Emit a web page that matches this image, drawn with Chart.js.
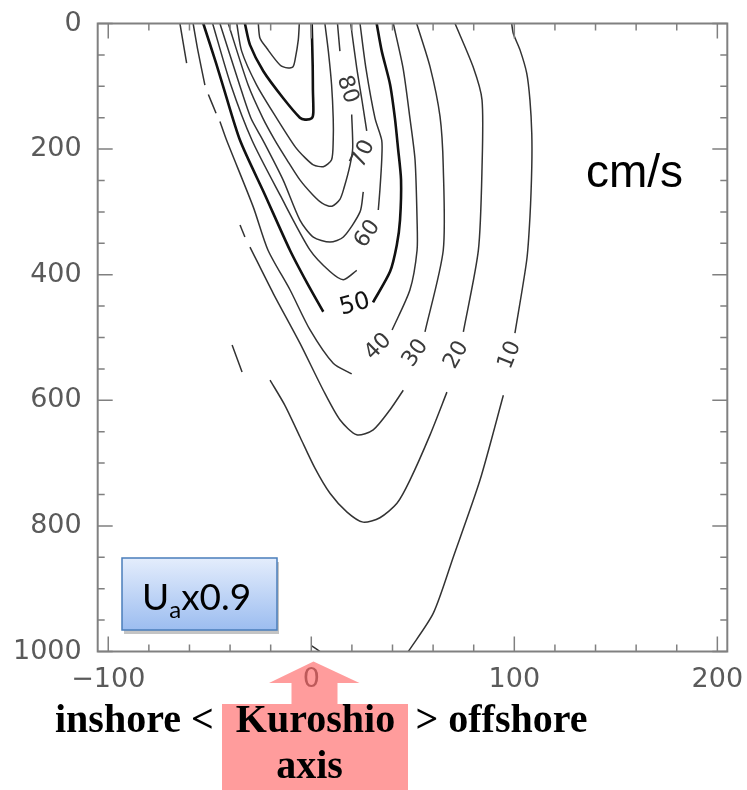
<!DOCTYPE html>
<html>
<head>
<meta charset="utf-8">
<script src="https://cdn.jsdelivr.net/npm/chart.js@4.4.1/dist/chart.umd.min.js"></script>
<style>
  html, body { margin: 0; padding: 0; background: #fff; }
  #wrap { position: relative; width: 747px; height: 790px; }
</style>
</head>
<body>
<div id="wrap"><canvas id="chart"></canvas></div>
<script>
// Along-stream velocity section across the Kuroshio (cm/s).
// x: distance from the current axis (km), y: depth (m).
const xTicks = [-100, 0, 100, 200];
const depthTicks = [0, 200, 400, 600, 800, 1000];
const xMinorStep = 20;
const depthMinorStep = 50;

// Each contour level is a list of visible pieces; each piece is a list of [x, depth].
const c10 = [
  [[98.7, 0], [99.5, 16], [102.8, 42], [106.1, 79], [107.7, 122], [108.6, 175], [108.6, 228], [107.7, 308], [106.1, 377], [100.3, 493]],
  [[94.6, 592], [83.1, 727], [70.0, 849], [60.1, 939], [47.8, 1000]],
  [[-39.0, 512], [-34.1, 555]],
  [[0.2, 991], [4.3, 1000]]
];
const c20 = [
  [[-20.3, 568], [-13.0, 608], [-5.6, 658], [1.8, 708], [9.2, 748], [17.6, 778], [25.5, 794], [33.8, 787], [42.2, 764], [48.6, 727], [58.5, 655], [66.8, 587]],
  [[74.9, 491], [82.3, 361], [84.1, 229], [84.1, 122], [79.7, 69], [70.8, 0]]
];
const c30 = [
  [[-64.7, 0], [-61.4, 63]],
  [[-35.1, 321], [-32.7, 340]],
  [[-30.2, 356], [-18.7, 430], [-5.6, 509], [5.9, 584], [14.1, 631], [22.4, 655], [30.5, 647], [38.8, 615], [45.3, 584]],
  [[56.0, 491], [65.0, 361], [65.0, 228], [63.4, 148], [58.5, 69], [51.9, 0]]
];
const c40 = [
  [[-58.2, 0], [-55.8, 44], [-52.4, 98]],
  [[-50.7, 113], [-46.9, 143]],
  [[-45.0, 156], [-41.7, 186], [-28.6, 292], [-21.3, 361], [-10.5, 424], [-0.6, 488], [10.8, 541], [19.9, 558]],
  [[39.8, 488], [48.6, 424], [52.1, 361], [52.1, 313], [51.1, 217], [48.6, 151], [45.2, 71], [40.4, 0]]
];
const c50 = [
  [[-53.2, 0], [-46.9, 63], [-43.6, 98], [-35.1, 186], [-22.8, 273], [-10.5, 361], [-2.1, 413], [5.9, 459]],
  [[30.4, 444], [38.8, 395], [42.1, 353], [43.7, 313], [44.2, 249], [42.7, 198], [41.2, 151], [38.8, 97], [34.7, 44], [32.2, 0]]
];
const c60 = [
  [[-48.6, 0], [-39.6, 98], [-29.2, 186], [-15.4, 273], [-0.6, 361], [9.2, 395], [15.8, 408], [22.4, 393]],
  [[33.0, 297], [33.8, 265], [34.7, 217], [34.7, 186], [31.4, 151], [26.9, 71], [24.0, 0]]
];
const c70 = [
  [[-45.0, 0], [-35.3, 98], [-29.7, 151], [-23.8, 186], [-13.9, 249], [-5.6, 313], [1.0, 340], [9.2, 348], [15.8, 340], [24.0, 300], [25.6, 268]],
  [[27.3, 171], [25.0, 123], [22.4, 71], [19.4, 0]]
];
const c80 = [
  [[-40.9, 0], [-31.1, 98], [-23.8, 151], [-17.9, 186], [-12.0, 217], [-5.6, 249], [0.8, 273], [5.3, 286], [10.2, 291], [14.1, 280], [16.1, 262], [19.1, 225], [20.4, 198], [19.9, 145]],
  [[14.1, 44], [12.9, 0]]
];
const c90 = [
  [[-36.7, 0], [-34.3, 44], [-26.9, 98], [-17.0, 151], [-8.0, 196], [-3.0, 214], [1.0, 225], [5.9, 228], [10.0, 217], [10.8, 186], [10.8, 151], [10.0, 98], [8.4, 44], [6.7, 0]]
];
const c100 = [
  [[-32.7, 0], [-30.2, 34], [-23.6, 76], [-13.8, 119], [-5.6, 150], [-3.1, 153], [0.2, 151], [1.0, 142], [0.8, 106], [0.7, 69], [0.2, 0]]
];
const c110 = [
  [[-26.1, 0], [-25.3, 23], [-22.0, 39], [-15.4, 66], [-11.3, 71], [-9.0, 69], [-8.0, 58], [-6.4, 26], [-5.9, 0]]
];

const contourLevels = [10, 20, 30, 40, 50, 60, 70, 80, 90, 100, 110];
const contourLines = [c10, c20, c30, c40, c50, c60, c70, c80, c90, c100, c110];

// In-line contour labels: level, position (x, depth) and text direction in degrees.
const labelLevels = [80, 70, 60, 50, 40, 30, 20, 10];
const labelX      = [17.7, 25.6, 27.7, 21.5, 33.0, 51.4, 71.6, 97.9];
const labelDepth  = [105, 208, 335, 448, 515, 525, 528, 528];
const labelAngle  = [72, -65, -55, -15, -45, -55, -60, -68];

const datasets = [];
contourLines.forEach((pieces, k) => {
  const level = contourLevels[k];
  const bold = level % 50 === 0;
  pieces.forEach(piece => {
    datasets.push({
      label: level + ' cm/s',
      data: piece.map(([x, d]) => ({ x: x, y: d })),
      borderColor: bold ? '#111111' : '#333333',
      borderWidth: bold ? 2.6 : 1.5,
      pointRadius: 0,
      tension: 0.25,
      fill: false
    });
  });
});

// Frame with inward major/minor ticks on all four sides.
const frameTicks = {
  id: 'frameTicks',
  afterDatasetsDraw(chart) {
    const { ctx, chartArea: a, scales: { x, y } } = chart;
    ctx.save();
    ctx.strokeStyle = '#808080';
    ctx.lineWidth = 1.5;
    ctx.beginPath();
    for (let v = xTicks[0]; v <= xTicks[xTicks.length - 1]; v += xMinorStep) {
      const px = x.getPixelForValue(v);
      const len = xTicks.includes(v) ? 15 : 7;
      ctx.moveTo(px, a.bottom); ctx.lineTo(px, a.bottom - len);
      ctx.moveTo(px, a.top); ctx.lineTo(px, a.top + len);
    }
    for (let v = depthTicks[0]; v <= depthTicks[depthTicks.length - 1]; v += depthMinorStep) {
      const py = y.getPixelForValue(v);
      const len = depthTicks.includes(v) ? 15 : 7;
      ctx.moveTo(a.left, py); ctx.lineTo(a.left + len, py);
      ctx.moveTo(a.right, py); ctx.lineTo(a.right - len, py);
    }
    ctx.stroke();
    ctx.lineWidth = 2;
    ctx.strokeRect(a.left, a.top, a.right - a.left, a.bottom - a.top);
    ctx.restore();
  }
};

// Level numbers written along the contours.
const contourLabels = {
  id: 'contourLabels',
  afterDatasetsDraw(chart) {
    const { ctx, scales: { x, y } } = chart;
    labelLevels.forEach((level, i) => {
      const px = x.getPixelForValue(labelX[i]);
      const py = y.getPixelForValue(labelDepth[i]);
      ctx.save();
      ctx.translate(px, py);
      ctx.rotate(labelAngle[i] * Math.PI / 180);
      ctx.font = (level === 50 ? '24px' : '22px') + ' "DejaVu Sans"';
      ctx.fillStyle = level === 50 ? '#111' : '#3a3a3a';
      ctx.textAlign = 'center';
      ctx.textBaseline = 'middle';
      ctx.fillText(String(level), 0, 0);
      ctx.restore();
    });
  }
};

// Unit, case tag, and the axis arrow with its caption.
const annotations = {
  id: 'annotations',
  afterDraw(chart) {
    const ctx = chart.ctx;
    ctx.save();

    ctx.fillStyle = '#000';
    ctx.font = '46px "Liberation Sans"';
    ctx.textAlign = 'left';
    ctx.textBaseline = 'alphabetic';
    ctx.fillText('cm/s', 586, 187);

    // case tag box
    const bx = 122, by = 558, bw = 155, bh = 72;
    ctx.fillStyle = '#c4c4c4';
    ctx.fillRect(bx + 2, by + 4, bw, bh);
    const g = ctx.createLinearGradient(0, by, 0, by + bh);
    g.addColorStop(0, '#e4edfc');
    g.addColorStop(1, '#9cbdf0');
    ctx.fillStyle = g;
    ctx.fillRect(bx, by, bw, bh);
    ctx.strokeStyle = '#4a7ebb';
    ctx.lineWidth = 1.5;
    ctx.strokeRect(bx, by, bw, bh);

    ctx.fillStyle = '#000';
    ctx.font = '37px Lato';
    let tx = 142;
    ctx.fillText('U', tx, 610);
    tx += ctx.measureText('U').width;
    ctx.font = '24px Lato';
    ctx.fillText('a', tx, 618);
    tx += ctx.measureText('a').width;
    ctx.font = '37px Lato';
    ctx.fillText('x0.9', tx, 610);

    // arrow pointing at the current axis
    ctx.fillStyle = 'rgba(255, 90, 90, 0.6)';
    ctx.beginPath();
    ctx.moveTo(222, 790);
    ctx.lineTo(222, 704);
    ctx.lineTo(291.5, 704);
    ctx.lineTo(291.5, 683);
    ctx.lineTo(269, 683);
    ctx.lineTo(313.5, 661.5);
    ctx.lineTo(359.5, 683);
    ctx.lineTo(337.5, 683);
    ctx.lineTo(337.5, 704);
    ctx.lineTo(408, 704);
    ctx.lineTo(408, 790);
    ctx.closePath();
    ctx.fill();

    ctx.fillStyle = '#000';
    ctx.font = 'bold 40px "Liberation Serif"';
    ctx.textAlign = 'left';
    ctx.fillText('inshore <', 55, 732);
    ctx.fillText('> offshore', 415.5, 732);
    ctx.textAlign = 'center';
    ctx.fillText('Kuroshio', 315.5, 732);
    ctx.fillText('axis', 309.5, 778);
    ctx.restore();
  }
};

const tickFont = { family: 'DejaVu Sans', size: 27 };

new Chart(document.getElementById('chart'), {
  type: 'line',
  data: { datasets: datasets },
  options: {
    responsive: true,
    maintainAspectRatio: false,
    animation: false,
    events: [],
    layout: { padding: { left: 0, top: 23.5, right: 19.7, bottom: 0 } },
    plugins: { legend: { display: false }, tooltip: { enabled: false } },
    scales: {
      x: {
        type: 'linear',
        min: -105.2,
        max: 204.9,
        afterBuildTicks: s => { s.ticks = xTicks.map(v => ({ value: v })); },
        afterFit: s => { s.height = 138.5; s.paddingLeft = 0; s.paddingRight = 0; },
        grid: { display: false, drawTicks: false },
        border: { display: false },
        ticks: {
          font: tickFont,
          color: '#5a5a5a',
          padding: 12,
          maxRotation: 0,
          autoSkip: false,
          callback: v => (v < 0 ? '\u2212' + Math.abs(v) : String(v))
        }
      },
      y: {
        type: 'linear',
        reverse: true,
        min: 0,
        max: 1000,
        afterBuildTicks: s => { s.ticks = depthTicks.map(v => ({ value: v })); },
        afterFit: s => { s.width = 97.7; s.paddingTop = 0; s.paddingBottom = 0; },
        grid: { display: false, drawTicks: false },
        border: { display: false },
        ticks: { font: tickFont, color: '#5a5a5a', padding: 16, callback: v => String(v) }
      }
    }
  },
  plugins: [frameTicks, contourLabels, annotations]
});
</script>
</body>
</html>
